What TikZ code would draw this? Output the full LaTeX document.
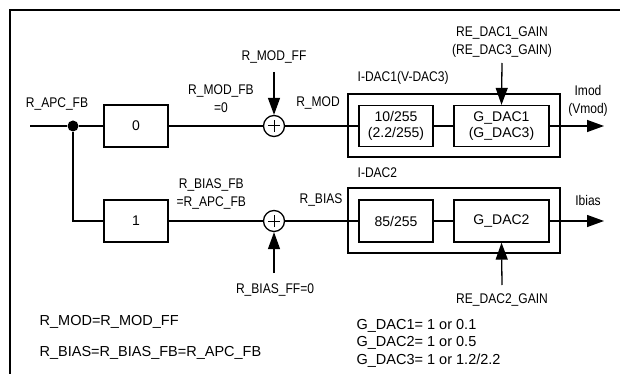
\documentclass[tikz,border=0pt]{standalone}
\usepackage{fontspec}
\setmainfont{Liberation Sans}
\newfontfamily\narrowfont[FakeStretch=0.86]{Liberation Sans}
\usetikzlibrary{arrows.meta}
\begin{document}
\begin{tikzpicture}[x=1pt,y=-1pt,line width=1.3pt,
  blk/.style={draw,minimum width=64pt,minimum height=42pt,inner sep=0pt,font=\fontsize{14}{16}\selectfont},
  inblk/.style={draw,minimum height=41pt,inner sep=0pt,align=center,font=\fontsize{14}{16}\selectfont},
  outer/.style={draw,minimum width=212pt,inner sep=0pt},
  sumnode/.style={draw,circle,minimum size=21pt,inner sep=0pt,
    path picture={\draw[line width=1pt] ([xshift=-6pt]path picture bounding box.center) -- ([xshift=6pt]path picture bounding box.center)
      ([yshift=-6pt]path picture bounding box.center) -- ([yshift=6pt]path picture bounding box.center);}},
  lbl/.style={inner sep=0pt,align=center,font=\narrowfont\fontsize{14}{18}\selectfont},
  note/.style={inner sep=0pt,anchor=west,font=\fontsize{14.5}{17}\selectfont},
  arr/.style={-{Triangle[length=17pt,width=12pt]}},
  dotnode/.style={circle,fill,minimum size=11pt,inner sep=0pt}
]
\useasboundingbox (0,0) rectangle (620,374);
% frame
\draw (10,374) -- (10,10) -- (621,10);

% upper path
\coordinate (in) at (30,126);
\node[dotnode] (dot) at (73,126) {};
\node[blk] (b0) at (136,126) {0};
\node[sumnode] (s1) at (274,126) {};
\node[outer,minimum height=63pt] (o1) at (454,125.5) {};
\node[inblk,minimum width=74pt] (a1) at (396,126) {10/255\\(2.2/255)};
\node[inblk,minimum width=95pt] (g1) at (501.5,126) {G\_DAC1\\(G\_DAC3)};
\coordinate (out1) at (604,126);
\coordinate (ff1) at (274,72);
\coordinate (gn1) at (502,63);

\draw (in) -- (dot) -- (b0) -- (s1) -- (a1) -- (g1);
\draw[arr] (g1.east) -- (out1);
\draw[arr] (ff1) -- (s1.north);
\draw[arr] (gn1) -- (g1.north);

% lower path
\coordinate (corner) at (73,221);
\node[blk] (b1) at (136,221) {1};
\node[sumnode] (s2) at (274,221) {};
\node[outer,minimum height=65pt] (o2) at (454,220.5) {};
\node[inblk,minimum width=74pt,minimum height=42pt] (a2) at (396,221) {85/255};
\node[inblk,minimum width=95pt,minimum height=42pt] (g2) at (501.5,221) {G\_DAC2};
\coordinate (out2) at (604,221);
\coordinate (ff2) at (274,273);
\coordinate (gn2) at (502,285);

\draw (dot) -- (corner) -- (b1) -- (s2) -- (a2) -- (g2);
\draw[arr] (g2.east) -- (out2);
\draw[arr] (ff2) -- (s2.south);
\draw[arr] (gn2) -- (g2.south);

% labels
\node[lbl] (lapc) at (57,104) {R\_APC\_FB};
\node[lbl] (lmodff) at (274,57) {R\_MOD\_FF};
\node[lbl] (lmodfb) at (221,99) {R\_MOD\_FB\\=0};
\node[lbl,anchor=west] (lbiasfb) at (176,194) {R\_BIAS\_FB\\=R\_APC\_FB};
\node[lbl] (lbiasff) at (275,290) {R\_BIAS\_FF=0};
\node[lbl] (lmod) at (318,103) {R\_MOD};
\node[lbl] (lbias) at (321,200) {R\_BIAS};
\node[lbl,anchor=west] (lidac1) at (357,78) {I-DAC1(V-DAC3)};
\node[lbl,anchor=west] (lidac2) at (357,173) {I-DAC2};
\node[lbl] (lgain1) at (502,42) {RE\_DAC1\_GAIN\\(RE\_DAC3\_GAIN)};
\node[lbl] (lgain2) at (502,300) {RE\_DAC2\_GAIN};
\node[lbl] (limod) at (588,101) {Imod\\(Vmod)};
\node[lbl] (libias) at (588,200) {Ibias};

% notes
\node[note] (n1) at (39,322) {R\_MOD=R\_MOD\_FF};
\node[note] (n2) at (39,353) {R\_BIAS=R\_BIAS\_FB=R\_APC\_FB};
\node[note] (n3) at (356,326) {G\_DAC1= 1 or 0.1};
\node[note] (n4) at (356,343) {G\_DAC2= 1 or 0.5};
\node[note] (n5) at (356,361) {G\_DAC3= 1 or 1.2/2.2};
\end{tikzpicture}
\end{document}
